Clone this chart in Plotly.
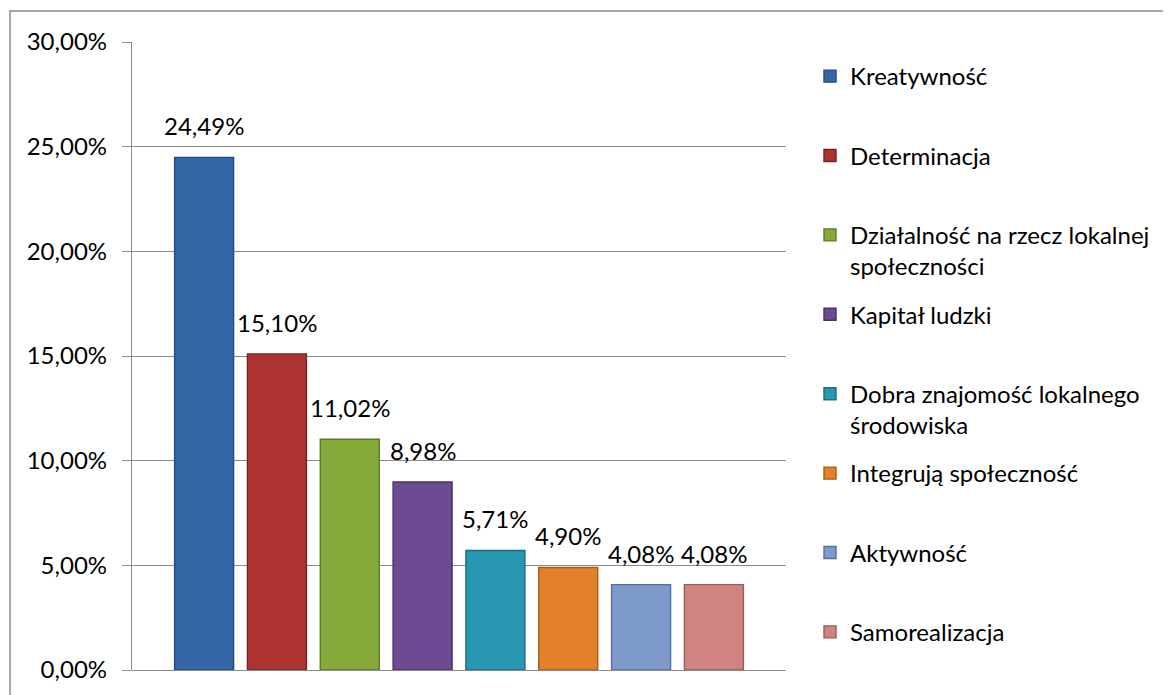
import plotly.graph_objects as go

categories = ["Kreatywność", "Determinacja", "Działalność na rzecz lokalnej<br>społeczności",
              "Kapitał ludzki", "Dobra znajomość lokalnego<br>środowiska", "Integrują społeczność",
              "Aktywność", "Samorealizacja"]
values = [0.2449, 0.1510, 0.1102, 0.0898, 0.0571, 0.0490, 0.0408, 0.0408]
colors = ["#3566A8", "#AD3331", "#86A93C", "#6C4B93", "#2897B1", "#E4802A", "#7E9ACB", "#D08482"]
edges = ["#234B80", "#7A2220", "#5E7A26", "#4A3069", "#1B6D80", "#A95C16", "#55709F", "#9C5A58"]
y_ticks = [0, 0.05, 0.10, 0.15, 0.20, 0.25, 0.30]

FONT = "Lato, Carlito, 'Noto Sans', sans-serif"
GRID = "#8c8c8c"
FS = 24

# page body has an 8px margin; the figure is sized/placed to compensate
W, H = 1163, 687
ML, MT = 124, 34
PW, PH = 654, 628

fig = go.Figure()
for i, (cat, val) in enumerate(zip(categories, values)):
    name = cat if "<br>" in cat else cat + "<br>\u00a0"
    xc = cat.replace("<br>", " ")
    fig.add_trace(go.Bar(
        x=[xc], y=[val], name=name, width=0.81,
        marker=dict(color=colors[i], line=dict(color=edges[i], width=1.4)),
        legendgroup=str(i), showlegend=True,
        hoverinfo="skip",
    ))
    fig.add_annotation(
        x=xc, y=val,
        text=f"{val*100:.2f}%".replace(".", ","),
        showarrow=False, yanchor="bottom", yshift=15,
        font=dict(family=FONT, size=FS, color="#000000"),
    )

fig.update_layout(
    width=W, height=H,
    margin=dict(l=ML, r=W - ML - PW, t=MT, b=H - MT - PH),
    paper_bgcolor="white", plot_bgcolor="white",
    barmode="overlay",
    separators=", ",
    font=dict(family=FONT, size=FS, color="#000000"),
    showlegend=True,
    legend=dict(
        x=1 + 24 / PW, xanchor="left", y=1 - 12 / PH, yanchor="top",
        valign="top", traceorder="grouped", tracegroupgap=14,
        maxheight=660,
        font=dict(family=FONT, size=FS, color="#000000"),
        bgcolor="rgba(0,0,0,0)",
    ),
    xaxis=dict(
        type="category", categoryorder="array",
        categoryarray=[c.replace("<br>", " ") for c in categories],
        range=[-0.99, 7.99], showticklabels=False, showgrid=False,
        zeroline=False, showline=False, ticks="",
    ),
    yaxis=dict(
        range=[0, 0.30], tickvals=y_ticks, tickformat=".2%",
        showgrid=True, gridcolor=GRID, gridwidth=1.3,
        zeroline=True, zerolinecolor=GRID, zerolinewidth=1.3,
        showline=True, linecolor=GRID, linewidth=1.3,
        ticks="outside", ticklen=9, tickcolor=GRID, tickwidth=1.3,
        ticklabelstandoff=10,
        tickfont=dict(family=FONT, size=FS, color="#000000"),
    ),
    shapes=[dict(
        type="rect", xref="paper", yref="paper",
        x0=(2 - ML) / PW, x1=2.0, y0=-0.3, y1=1 + (MT - 3) / PH,
        line=dict(color="#8c8c8c", width=1.5), fillcolor="rgba(0,0,0,0)", layer="below",
    )],
)

fig.write_html("out.html")
